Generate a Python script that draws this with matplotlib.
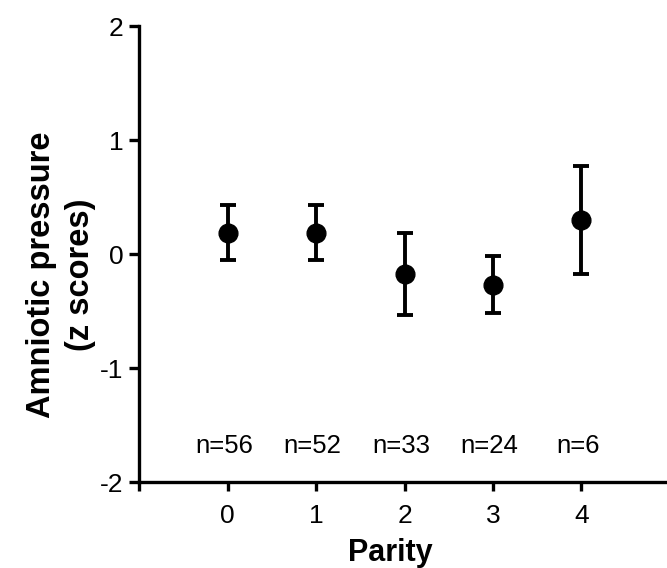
import matplotlib
matplotlib.use("Agg")
import matplotlib.pyplot as plt

parity = [0, 1, 2, 3, 4]
z_mean = [0.19, 0.19, -0.17, -0.27, 0.30]
z_err = [0.24, 0.24, 0.36, 0.25, 0.47]
n_labels = ["n=56", "n=52", "n=33", "n=24", "n=6"]

plt.rcParams["font.family"] = ["Liberation Sans", "DejaVu Sans"]

fig = plt.figure(figsize=(6.67, 5.68), dpi=100)
ax = fig.add_axes([0.209, 0.151, 0.795, 0.803])

ax.errorbar(parity, z_mean, yerr=z_err, fmt="o", color="black",
            markersize=13.5, elinewidth=2.8, capsize=5.5, capthick=2.8)

# sample sizes written above the x axis
for x, lab in zip(parity, n_labels):
    ax.text(x - 0.04, -1.68, lab, ha="center", va="center", fontsize=18.5)

ax.set_xlim(-1, 5)
ax.set_ylim(-2, 2)
ax.set_xticks([-1, 0, 1, 2, 3, 4])
ax.set_xticklabels(["", "0", "1", "2", "3", "4"])
ax.set_yticks([-2, -1, 0, 1, 2])
ax.set_yticklabels(["-2", "-1", "0", "1", "2"])

for s in ["top", "right"]:
    ax.spines[s].set_visible(False)
for s in ["left", "bottom"]:
    ax.spines[s].set_linewidth(2.4)
ax.tick_params(axis="y", length=7.5, width=2.4, labelsize=19, pad=4)
ax.tick_params(axis="x", length=6.5, width=2.4, labelsize=19, pad=9)

ax.set_xlabel("Parity", fontsize=22, fontweight="bold")
ax.xaxis.set_label_coords(0.474, -0.122)
ax.set_ylabel("Amniotic pressure\n(z scores)", fontsize=23.5,
              fontweight="bold", linespacing=1.35)
ax.yaxis.set_label_coords(-0.082, 0.454)

fig.savefig("out.png", dpi=100, facecolor="white")
